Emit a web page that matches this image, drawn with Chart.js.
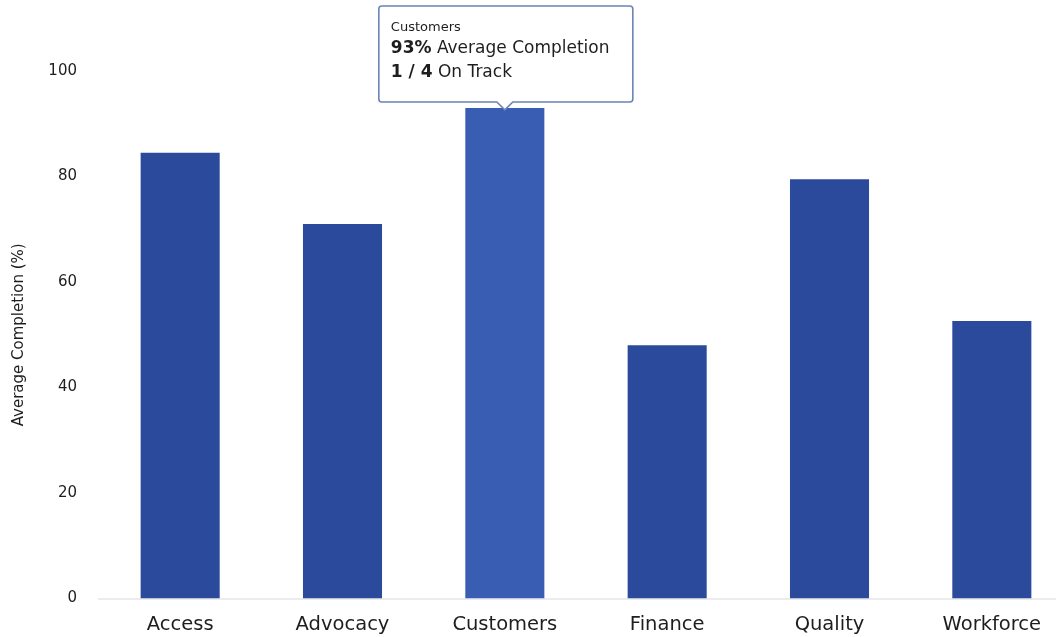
<!DOCTYPE html>
<html>
<head>
<meta charset="utf-8">
<script src="https://cdn.jsdelivr.net/npm/chart.js@4/dist/chart.umd.min.js"></script>
<style>
    html, body { margin: 0; padding: 0; background: #fff; overflow: hidden; }
    #wrap { width: 1056px; height: 637px; overflow: hidden; }
</style>
</head>
<body>
<div id="wrap"><canvas id="completionChart" width="1076" height="652"></canvas></div>
<script>
// Average completion per strategic area
const areas = ['Access', 'Advocacy', 'Customers', 'Finance', 'Quality', 'Workforce'];
const completion = [84.5, 71, 93, 48, 79.5, 52.6];
const yTicks = [0, 20, 40, 60, 80, 100];

// hovered bar and its on-track count
const activeIndex = 2;
const activeOnTrack = 1;
const activeTotal = 4;

const BAR = '#2b4a9b';
const BAR_HOVER = '#3a5db4';
const FONT = "'DejaVu Sans', Verdana, sans-serif";

const hoverTip = {
    id: 'hoverTip',
    afterDraw(chart) {
        const el = chart.getDatasetMeta(0).data[activeIndex];
        if (!el) return;
        const ctx = chart.ctx;
        const w = 254, h = 96, caret = 8;
        const bottom = el.y - 6;
        const top = bottom - h;
        const left = el.x - w / 2 + 1;
        const cx = el.x;

        ctx.save();
        ctx.beginPath();
        ctx.moveTo(left + 3, top);
        ctx.lineTo(left + w - 3, top);
        ctx.quadraticCurveTo(left + w, top, left + w, top + 3);
        ctx.lineTo(left + w, bottom - 3);
        ctx.quadraticCurveTo(left + w, bottom, left + w - 3, bottom);
        ctx.lineTo(cx + caret, bottom);
        ctx.lineTo(cx, bottom + caret);
        ctx.lineTo(cx - caret, bottom);
        ctx.lineTo(left + 3, bottom);
        ctx.quadraticCurveTo(left, bottom, left, bottom - 3);
        ctx.lineTo(left, top + 3);
        ctx.quadraticCurveTo(left, top, left + 3, top);
        ctx.closePath();
        ctx.fillStyle = '#fff';
        ctx.fill();
        ctx.lineWidth = 1.6;
        ctx.strokeStyle = '#6a84b8';
        ctx.stroke();

        ctx.fillStyle = '#1e1e1e';
        ctx.textBaseline = 'middle';
        const tx = left + 12;

        ctx.font = '13px ' + FONT;
        ctx.fillText(areas[activeIndex], tx, top + 22);

        const line = (bold, rest, y) => {
            ctx.font = 'bold 17px ' + FONT;
            ctx.fillText(bold, tx, y);
            const bw = ctx.measureText(bold).width;
            ctx.font = '17px ' + FONT;
            ctx.fillText(rest, tx + bw, y);
        };
        line(Math.round(completion[activeIndex]) + '%', ' Average Completion', top + 43);
        line(activeOnTrack + ' / ' + activeTotal, ' On Track', top + 67);
        ctx.restore();
    }
};

new Chart(document.getElementById('completionChart'), {
    type: 'bar',
    data: {
        labels: areas,
        datasets: [{
            data: completion,
            backgroundColor: areas.map((a, i) => i === activeIndex ? BAR_HOVER : BAR),
            borderWidth: 0,
            categoryPercentage: 1,
            barPercentage: 0.487
        }]
    },
    options: {
        responsive: false,
        animation: false,
        events: [],
        layout: { padding: { top: 71, right: 3, bottom: 0 } },
        plugins: {
            legend: { display: false },
            tooltip: { enabled: false }
        },
        scales: {
            x: {
                grid: { display: false, drawTicks: false },
                border: { display: true, color: '#ececec', width: 2 },
                ticks: { color: '#1e1e1e', font: { family: FONT, size: 19.5 }, padding: 15 }
            },
            y: {
                min: 0,
                max: 100,
                afterBuildTicks: s => { s.ticks = yTicks.map(v => ({ value: v })); },
                afterFit: s => { s.width = 99; },
                grid: { display: false, drawTicks: false },
                border: { display: false },
                ticks: { color: '#1e1e1e', font: { family: FONT, size: 15 }, padding: 22 },
                title: {
                    display: true,
                    text: 'Average Completion (%)',
                    color: '#1e1e1e',
                    font: { family: FONT, size: 15 },
                    padding: { top: 10, bottom: 4 }
                }
            }
        }
    },
    plugins: [hoverTip]
});
</script>
</body>
</html>
